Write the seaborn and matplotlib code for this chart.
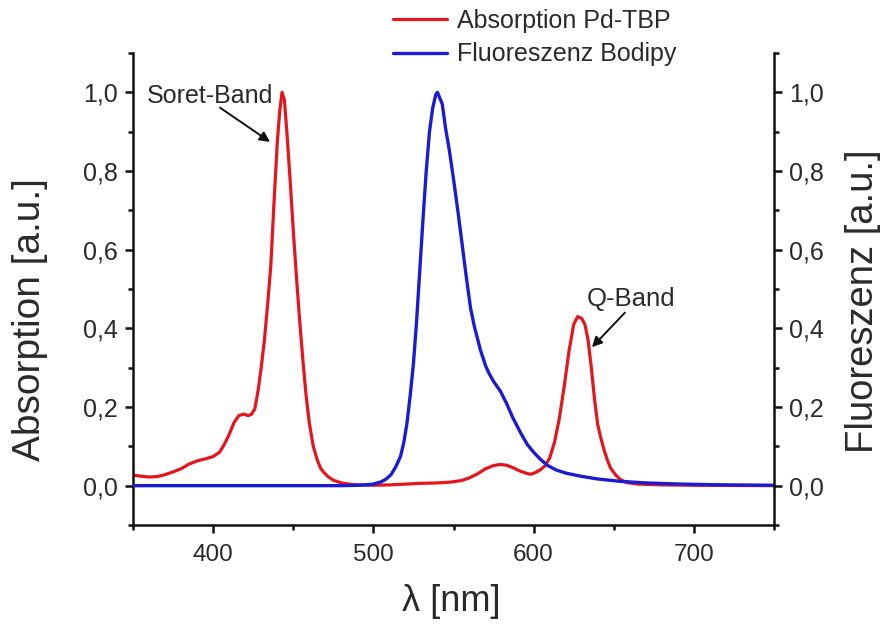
import matplotlib
matplotlib.use("Agg")
import matplotlib.pyplot as plt
import matplotlib.ticker as mticker
import seaborn as sns
import pandas as pd

# ---- data ----
abs_nm = [350, 355, 360, 365, 370, 375, 380, 385, 390, 395, 400, 404, 407, 410, 413,
          416, 419, 422, 424, 426, 428, 430, 432, 434, 436, 438, 440, 441.5, 443,
          444.5, 446, 448, 450, 452, 454, 456, 458, 460, 462.5, 465, 467, 469, 472,
          475, 480, 485, 490, 500, 510, 520, 530, 540, 548, 555, 560, 565, 570, 575,
          579, 583, 587, 591, 595, 598, 601, 604, 607, 610, 613, 616, 619, 622, 625,
          627.5, 630, 632, 634, 636, 638, 640, 642, 644, 646, 648, 651, 654, 658,
          665, 680, 700, 750]
abs_val = [0.027, 0.024, 0.022, 0.023, 0.028, 0.035, 0.043, 0.055, 0.063, 0.068, 0.074,
           0.085, 0.105, 0.13, 0.16, 0.178, 0.182, 0.178, 0.182, 0.195, 0.24, 0.30,
           0.37, 0.46, 0.56, 0.72, 0.87, 0.95, 1.0, 0.98, 0.90, 0.78, 0.65, 0.53, 0.42,
           0.32, 0.23, 0.16, 0.10, 0.065, 0.045, 0.034, 0.022, 0.014, 0.007, 0.004,
           0.002, 0.001, 0.002, 0.004, 0.006, 0.007, 0.009, 0.013, 0.02, 0.03, 0.043,
           0.051, 0.054, 0.052, 0.046, 0.038, 0.032, 0.029, 0.033, 0.04, 0.05, 0.07,
           0.11, 0.17, 0.25, 0.34, 0.41, 0.43, 0.425, 0.41, 0.37, 0.30, 0.22, 0.155,
           0.12, 0.09, 0.065, 0.045, 0.028, 0.016, 0.008, 0.004, 0.002, 0.001, 0.0]

fl_nm = [350, 400, 450, 480, 490, 495, 500, 505, 508, 511, 514, 517, 519, 521, 523,
         525, 527, 529, 531, 533, 535, 537, 539, 540, 541, 543, 545, 547.5, 550, 553,
         555.5, 558, 560.7, 563, 566.8, 570, 572, 575, 579.3, 583, 587, 591.8, 596,
         600, 604, 608.5, 614, 620, 629.4, 640, 654, 670, 692, 720, 750]
fl_val = [0.0, 0.0, 0.0, 0.0, 0.001, 0.002, 0.004, 0.01, 0.017, 0.028, 0.048, 0.075,
          0.11, 0.16, 0.23, 0.31, 0.42, 0.55, 0.68, 0.80, 0.90, 0.96, 0.995, 1.0, 0.99,
          0.97, 0.91, 0.85, 0.78, 0.69, 0.61, 0.53, 0.45, 0.405, 0.345, 0.305, 0.287,
          0.265, 0.24, 0.21, 0.173, 0.135, 0.105, 0.085, 0.068, 0.052, 0.04, 0.032,
          0.024, 0.017, 0.011, 0.007, 0.004, 0.002, 0.001]

x_ticks = [400, 500, 600, 700]
y_ticks = [0.0, 0.2, 0.4, 0.6, 0.8, 1.0]
label_abs = "Absorption Pd-TBP"
label_fl = "Fluoreszenz Bodipy"

df_abs = pd.DataFrame({"nm": abs_nm, "val": abs_val})
df_fl = pd.DataFrame({"nm": fl_nm, "val": fl_val})

sns.set_style("ticks")
plt.rcParams["font.family"] = ["Liberation Sans", "DejaVu Sans"]

RED = "#e5151d"
BLUE = "#1b1bd2"
TXT = "#2a2a2a"

fig = plt.figure(figsize=(8.85, 6.24), dpi=100)
ax = fig.add_axes([133/885, 1-525/624, (774-133)/885, (525-53)/624])
ax2 = ax.twinx()

sns.lineplot(data=df_abs, x="nm", y="val", ax=ax, color=RED, linewidth=2.3,
             sort=False, legend=False)
sns.lineplot(data=df_fl, x="nm", y="val", ax=ax2, color=BLUE, linewidth=2.4,
             sort=False, legend=False)

for a in (ax, ax2):
    a.set_xlim(350, 750)
    a.set_ylim(-0.1, 1.1)
    a.spines["top"].set_visible(False)
    for s in a.spines.values():
        s.set_linewidth(1.8)
        s.set_color("#111111")

ax.spines["right"].set_visible(False)
ax2.spines["left"].set_visible(False)
ax2.spines["bottom"].set_visible(False)

fmt = mticker.FuncFormatter(lambda v, p: f"{v:.1f}".replace(".", ","))
for a in (ax, ax2):
    a.set_yticks(y_ticks)
    a.yaxis.set_major_formatter(fmt)
    a.yaxis.set_minor_locator(mticker.MultipleLocator(0.1))
ax.set_xticks(x_ticks)
ax.xaxis.set_minor_locator(mticker.MultipleLocator(50))

ax.tick_params(axis="both", which="major", direction="out", length=6, width=1.8,
               labelsize=18, colors="#111111", labelcolor=TXT)
ax.tick_params(axis="both", which="minor", direction="out", length=3.5, width=1.8,
               colors="#111111")
ax.tick_params(axis="x", which="major", pad=8, labelsize=17.5)
ax.tick_params(axis="y", which="major", pad=5)
ax2.tick_params(axis="y", which="major", direction="out", length=6, width=1.8,
                labelsize=18, colors="#111111", labelcolor=TXT, pad=5)
ax2.tick_params(axis="y", which="minor", direction="out", length=3.5, width=1.8,
                colors="#111111")

ax.set_xlabel("λ [nm]", fontsize=26, color=TXT)
ax.set_ylabel("Absorption [a.u.]", fontsize=28, color=TXT)
ax2.set_ylabel("Fluoreszenz [a.u.]", fontsize=27.5, color=TXT)
ax.xaxis.set_label_coords(0.497, -0.125)
ax.yaxis.set_label_coords(-0.133, 0.436)
ax2.yaxis.set_label_coords(1.110, 0.475)

# annotations
ax.text(398, 0.973, "Soret-Band", fontsize=18, color=TXT, ha="center", va="baseline")
ax.annotate("", xy=(435.5, 0.874), xytext=(404.3, 0.961),
            arrowprops=dict(arrowstyle="-|>", color="#111111", lw=1.4,
                            mutation_scale=15, shrinkA=0, shrinkB=0))
ax.text(661, 0.458, "Q-Band", fontsize=18.5, color=TXT, ha="center", va="baseline")
ax.annotate("", xy=(636.4, 0.352), xytext=(657, 0.440),
            arrowprops=dict(arrowstyle="-|>", color="#111111", lw=1.4,
                            mutation_scale=15, shrinkA=0, shrinkB=0))

handles = [ax.lines[0], ax2.lines[0]]
leg = fig.legend(handles, [label_abs, label_fl], loc="upper left",
                 bbox_to_anchor=(393/885, 1 - 9/624), frameon=False, fontsize=18,
                 handlelength=2.16, handletextpad=0.4, labelspacing=0.38,
                 borderpad=0, borderaxespad=0)
for t in leg.get_texts():
    t.set_color(TXT)

fig.savefig("out.png", dpi=100)
